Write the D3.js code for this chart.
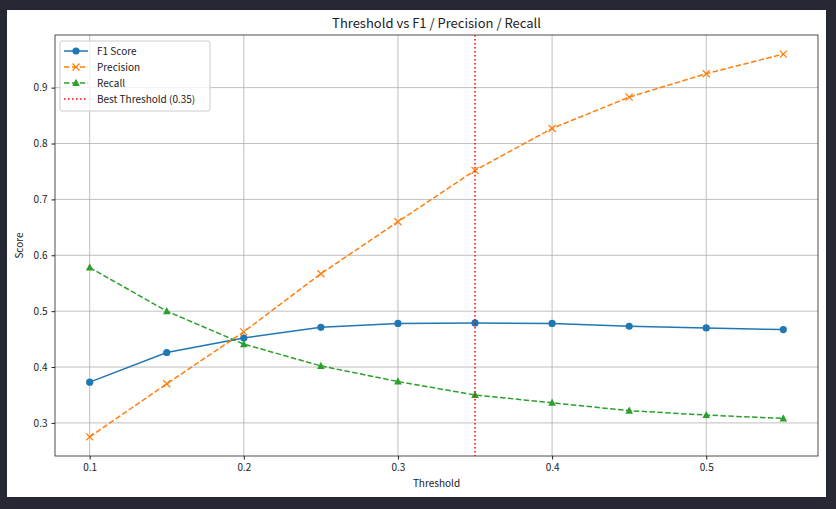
<!DOCTYPE html>
<html><head><meta charset="utf-8">
<script src="https://cdn.jsdelivr.net/npm/d3@7"></script>
<style>body{margin:0;background:#262833;}svg{display:block;}text{font-family:"Noto Sans CJK KR","Noto Sans",sans-serif;fill:#222;}</style>
</head><body>
<div id="chart"></div>
<script>
const thresholds = [0.1, 0.15, 0.2, 0.25, 0.3, 0.35, 0.4, 0.45, 0.5, 0.55];
const f1 = [0.373, 0.426, 0.452, 0.471, 0.478, 0.479, 0.478, 0.473, 0.470, 0.467];
const precision = [0.275, 0.370, 0.463, 0.567, 0.660, 0.752, 0.827, 0.883, 0.925, 0.960];
const recall = [0.578, 0.500, 0.441, 0.402, 0.374, 0.350, 0.336, 0.322, 0.314, 0.308];
const bestThreshold = 0.35;
const xTicks = [0.1, 0.2, 0.3, 0.4, 0.5];
const yTicks = [0.3, 0.4, 0.5, 0.6, 0.7, 0.8, 0.9];

const width = 836, height = 509;
const plot = { left: 55, right: 818, top: 35, bottom: 456 };

const svg = d3.select("#chart").append("svg").attr("width", width).attr("height", height);
svg.append("rect").attr("x", 7).attr("y", 10).attr("width", 819).attr("height", 487).attr("fill", "#fff");

const x = d3.scaleLinear().domain([0.0775, 0.5725]).range([plot.left, plot.right]);
const y = d3.scaleLinear().domain([0.2408, 0.9942]).range([plot.bottom, plot.top]);

// grid
const g = svg.append("g");
g.selectAll(".gx").data(xTicks).join("line")
  .attr("x1", d => x(d)).attr("x2", d => x(d)).attr("y1", plot.top).attr("y2", plot.bottom)
  .attr("stroke", "#b0b0b0").attr("stroke-width", 0.8);
g.selectAll(".gy").data(yTicks).join("line")
  .attr("y1", d => y(d)).attr("y2", d => y(d)).attr("x1", plot.left).attr("x2", plot.right)
  .attr("stroke", "#b0b0b0").attr("stroke-width", 0.8);

// axes
const xAxis = svg.append("g").attr("transform", `translate(0,${plot.bottom})`)
  .call(d3.axisBottom(x).tickValues(xTicks).tickSize(3.5).tickPadding(4).tickFormat(d3.format(".1f")));
const yAxis = svg.append("g").attr("transform", `translate(${plot.left},0)`)
  .call(d3.axisLeft(y).tickValues(yTicks).tickSize(3.5).tickPadding(4).tickFormat(d3.format(".1f")));
[xAxis, yAxis].forEach(a => { a.select(".domain").remove(); a.selectAll("text").style("font-size", "10px").attr("fill", "#222"); a.selectAll("line").attr("stroke", "#222"); });

svg.append("rect").attr("x", plot.left).attr("y", plot.top)
  .attr("width", plot.right - plot.left).attr("height", plot.bottom - plot.top)
  .attr("fill", "none").attr("stroke", "#222").attr("stroke-width", 0.8);

const series = [
  { name: "F1 Score", values: f1, color: "#1f77b4", dash: null, marker: "circle" },
  { name: "Precision", values: precision, color: "#ff7f0e", dash: "5.5,2.4", marker: "x" },
  { name: "Recall", values: recall, color: "#2ca02c", dash: "5.5,2.4", marker: "tri" },
];

function drawMarker(sel, m, color) {
  if (m === "circle") sel.append("circle").attr("r", 3.6).attr("fill", color);
  else if (m === "x") sel.append("path").attr("d", "M-3.5,-3.5L3.5,3.5M-3.5,3.5L3.5,-3.5").attr("stroke", color).attr("stroke-width", 1.3);
  else sel.append("path").attr("d", "M0,-4.2L3.8,3L-3.8,3Z").attr("fill", color);
}

const line = d3.line().x((d, i) => x(thresholds[i])).y(d => y(d));
series.forEach(s => {
  svg.append("path").datum(s.values).attr("d", line).attr("fill", "none")
    .attr("stroke", s.color).attr("stroke-width", 1.5).attr("stroke-dasharray", s.dash);
  s.values.forEach((v, i) => {
    drawMarker(svg.append("g").attr("transform", `translate(${x(thresholds[i])},${y(v)})`), s.marker, s.color);
  });
});

svg.append("line").attr("x1", x(bestThreshold)).attr("x2", x(bestThreshold))
  .attr("y1", plot.top).attr("y2", plot.bottom)
  .attr("stroke", "red").attr("stroke-width", 1.5).attr("stroke-dasharray", "1.5,2.5");

// title & labels
svg.append("text").attr("x", (plot.left + plot.right) / 2).attr("y", 28).attr("text-anchor", "middle")
  .style("font-size", "13px").text("Threshold vs F1 / Precision / Recall");
svg.append("text").attr("x", (plot.left + plot.right) / 2).attr("y", 487).attr("text-anchor", "middle")
  .style("font-size", "10px").text("Threshold");
svg.append("text").attr("transform", `translate(23,${(plot.top + plot.bottom) / 2}) rotate(-90)`)
  .attr("text-anchor", "middle").style("font-size", "10px").text("Score");

// legend
const lg = svg.append("g").attr("transform", "translate(60,41)");
lg.append("rect").attr("width", 150).attr("height", 70).attr("rx", 2)
  .attr("fill", "#fff").attr("fill-opacity", 0.8).attr("stroke", "#ccc");
const items = series.concat([{ name: `Best Threshold (${bestThreshold})`, color: "red", dash: "1.5,2.5", marker: null }]);
items.forEach((s, i) => {
  const row = lg.append("g").attr("transform", `translate(4,${10 + i * 16})`);
  row.append("line").attr("x1", 0).attr("x2", 24).attr("stroke", s.color).attr("stroke-width", 1.5).attr("stroke-dasharray", s.dash);
  if (s.marker) drawMarker(row.append("g").attr("transform", "translate(12,0)"), s.marker, s.color);
  row.append("text").attr("x", 33).attr("y", 3.5).style("font-size", "10px").text(s.name);
});
</script>
</body></html>
